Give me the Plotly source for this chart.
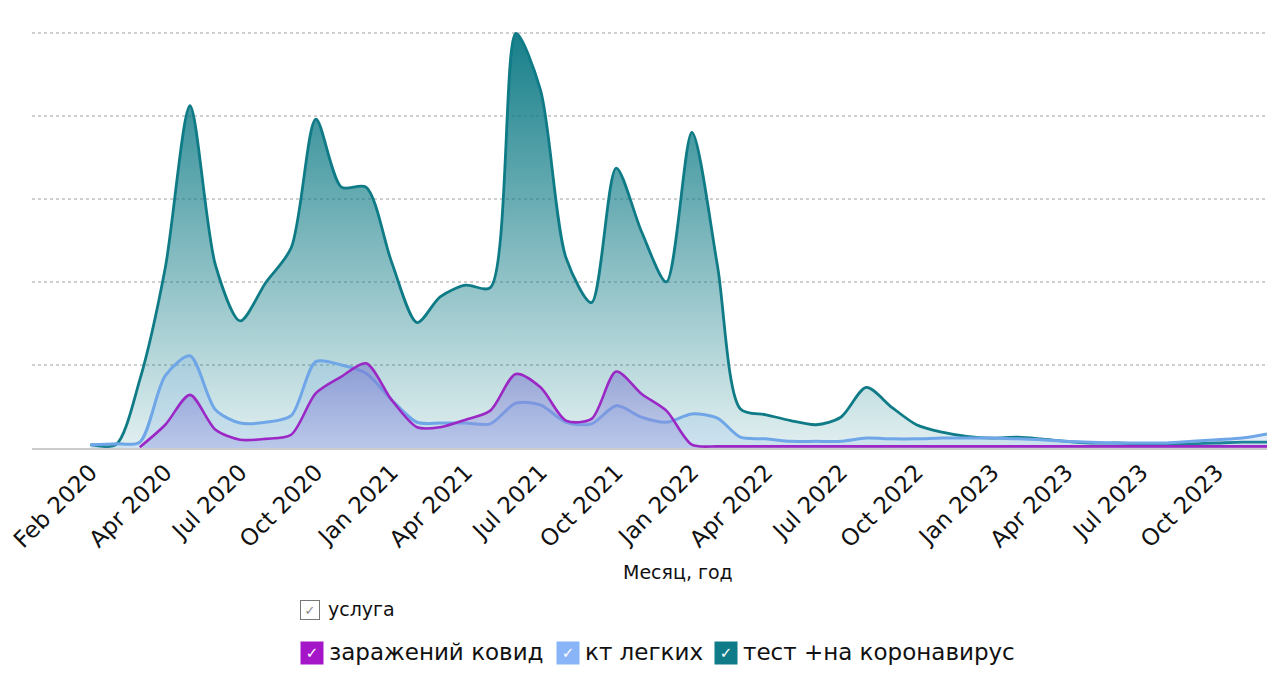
import plotly.graph_objects as go

months = ["2020-01", "2020-02", "2020-03", "2020-04", "2020-05", "2020-06", "2020-07", "2020-08",
          "2020-09", "2020-10", "2020-11", "2020-12", "2021-01", "2021-02", "2021-03", "2021-04",
          "2021-05", "2021-06", "2021-07", "2021-08", "2021-09", "2021-10", "2021-11", "2021-12",
          "2022-01", "2022-02", "2022-03", "2022-04", "2022-05", "2022-06", "2022-07", "2022-08",
          "2022-09", "2022-10", "2022-11", "2022-12", "2023-01", "2023-02", "2023-03", "2023-04",
          "2023-05", "2023-06", "2023-07", "2023-08", "2023-09", "2023-10", "2023-11", "2023-12"]

test_corona = [4, 4, 82, 217, 412, 220, 153, 199, 241, 396,
               314, 314, 224, 151, 182, 196, 193, 499, 431, 229,
               175, 337, 260, 200, 380, 220, 47, 40, 33, 28,
               37, 73, 49, 28, 19, 14, 12, 13, 11, 8,
               6, 6, 5, 4, 5, 6, 7, 7]

kt_lungs = [4, 5, 7, 87, 111, 46, 30, 31, 39, 104,
            100, 90, 58, 31, 30, 30, 29, 54, 52, 31,
            29, 51, 37, 31, 41, 36, 13, 11, 8, 8,
            8, 12, 11, 11, 12, 12, 12, 11, 10, 8,
            7, 6, 6, 6, 8, 10, 12, 17]

covid_inf = [None, None, 1, 28, 64, 22, 10, 11, 16, 66,
             86, 102, 58, 25, 25, 34, 45, 89, 73, 33,
             35, 92, 65, 45, 4, 2, 2, 2, 2, 2,
             2, 2, 2, 2, 2, 2, 2, 2, 2, 2,
             2, 2, 2, 2, 2, 2, 2, 2]

series_names = ["заражений ковид", "кт легких", "тест +на коронавирус"]
legend_title = "услуга"
x_title = "Месяц, год"

tick_dates = ["2020-01-01", "2020-04-01", "2020-07-01", "2020-10-01",
              "2021-01-01", "2021-04-01", "2021-07-01", "2021-10-01",
              "2022-01-01", "2022-04-01", "2022-07-01", "2022-10-01",
              "2023-01-01", "2023-04-01", "2023-07-01", "2023-10-01"]
tick_labels = ["Feb 2020", "Apr 2020", "Jul 2020", "Oct 2020",
               "Jan 2021", "Apr 2021", "Jul 2021", "Oct 2021",
               "Jan 2022", "Apr 2022", "Jul 2022", "Oct 2022",
               "Jan 2023", "Apr 2023", "Jul 2023", "Oct 2023"]

FONT = "DejaVu Sans"
W, H = 1267, 681
L, R, T = 32, 0, 31
PH = 417
B = H - T - PH
PW = W - L - R


def px(x):
    return (x - L) / PW


def py(y):
    return (T + PH - y) / PH


line_colors = ["#9b28c5", "#6fa6e8", "#0e7b86"]
swatch_colors = ["#a616c9", "#8ab4f8", "#0f7b88"]

fig = go.Figure()

fig.add_trace(go.Scatter(
    x=months, y=test_corona, name=series_names[2], mode="lines",
    line=dict(color=line_colors[2], width=2.8, shape="spline", smoothing=0.8),
    fill="tozeroy",
    fillgradient=dict(type="vertical", start=0, stop=500,
                      colorscale=[[0, "rgba(15,123,134,0.12)"],
                                  [1, "rgba(15,123,134,0.97)"]]),
))
fig.add_trace(go.Scatter(
    x=months, y=kt_lungs, name=series_names[1], mode="lines",
    line=dict(color=line_colors[1], width=3, shape="spline", smoothing=0.8),
    fill="tozeroy", fillcolor="rgba(110,165,232,0.18)",
))
fig.add_trace(go.Scatter(
    x=months, y=covid_inf, name=series_names[0], mode="lines",
    line=dict(color=line_colors[0], width=2.6, shape="spline", smoothing=0.8),
    fill="tozeroy",
    fillgradient=dict(type="vertical", start=0, stop=105,
                      colorscale=[[0, "rgba(150,150,225,0.35)"],
                                  [1, "rgba(120,120,205,0.6)"]]),
))

annotations = []
annotations.append(dict(text=x_title, x=px(678), y=py(572), xref="paper", yref="paper",
                        xanchor="center", yanchor="middle", showarrow=False,
                        font=dict(family=FONT, size=19, color="#111111")))
annotations.append(dict(text="✓", x=px(300), y=py(610), xref="paper", yref="paper",
                        xanchor="left", yanchor="middle", showarrow=False,
                        width=18, height=18, bgcolor="white", bordercolor="#777777",
                        borderwidth=1, borderpad=0,
                        font=dict(family=FONT, size=13, color="#888888")))
annotations.append(dict(text=legend_title, x=px(326), y=py(609), xref="paper", yref="paper",
                        xanchor="left", yanchor="middle", showarrow=False,
                        font=dict(family=FONT, size=19, color="#111111")))
item_x = [300, 556, 714]
for name, col, xx in zip(series_names, swatch_colors, item_x):
    annotations.append(dict(text="✓", x=px(xx), y=py(653), xref="paper", yref="paper",
                            xanchor="left", yanchor="middle", showarrow=False,
                            width=22, height=22, bgcolor=col, borderpad=0,
                            font=dict(family=FONT, size=15, color="white")))
    annotations.append(dict(text=name, x=px(xx + 27), y=py(652), xref="paper", yref="paper",
                            xanchor="left", yanchor="middle", showarrow=False,
                            font=dict(family=FONT, size=23, color="#111111")))

fig.update_layout(
    width=W, height=H,
    margin=dict(l=L, r=R, t=T, b=B),
    paper_bgcolor="white", plot_bgcolor="white",
    showlegend=False,
    font=dict(family=FONT, color="#111111"),
    annotations=annotations,
    xaxis=dict(
        type="date", range=["2019-10-22", "2023-12-01"],
        tickmode="array", tickvals=tick_dates, ticktext=tick_labels,
        tickangle=-45, tickfont=dict(family=FONT, size=23, color="#111111"),
        ticklabeloverflow="allow",
        showgrid=False, ticks="", showline=True, linecolor="#cccccc", linewidth=1.5,
        zeroline=False,
    ),
    yaxis=dict(
        range=[0, 502], dtick=100, showticklabels=False, ticks="",
        showgrid=True, gridcolor="#cfcfcf", griddash="dot", gridwidth=1.5,
        zeroline=False, showline=False,
    ),
)

fig.write_html(
    "out.html",
    config={"displayModeBar": False},
    post_script="document.body.style.margin='0px';document.body.style.overflow='hidden';",
)
